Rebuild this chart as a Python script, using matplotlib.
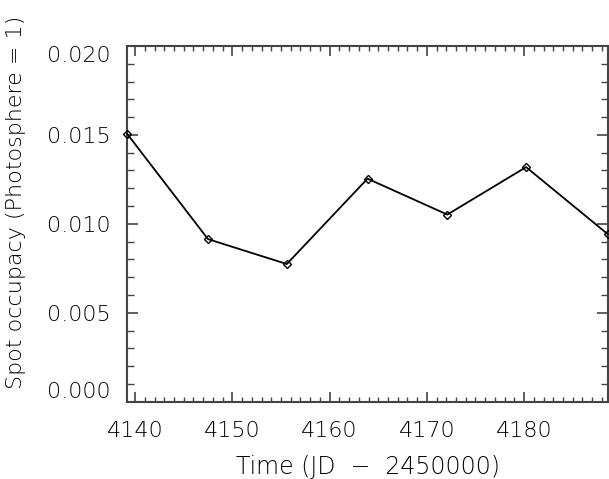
import matplotlib
matplotlib.use('Agg')
import matplotlib.pyplot as plt
from matplotlib.ticker import MultipleLocator

# spot occupancy vs time
time_jd = [4139.2, 4147.5, 4155.6, 4163.9, 4172.1, 4180.2, 4188.6]
occupancy = [0.01505, 0.00914, 0.00774, 0.01254, 0.01052, 0.01319, 0.00942]

xticks = [4140, 4150, 4160, 4170, 4180]
yticks = [0.000, 0.005, 0.010, 0.015, 0.020]
ytick_labels = ['0.000', '0.005', '0.010', '0.015', '0.020']

axcol = '#444444'
txtcol = 'black'

plt.rcParams['font.family'] = ['DejaVu Sans']

fig = plt.figure(figsize=(6.09, 4.79), dpi=100)
ax = fig.add_axes([0.209, 0.1614, 0.789, 0.7426])

ax.plot(time_jd, occupancy, color='black', lw=1.3, marker='D', ms=4.5,
        mfc='none', mec='black', mew=1.0, clip_on=False, zorder=3)

ax.set_xlim(min(time_jd), max(time_jd))
ax.set_ylim(0.0, 0.020)

ax.set_xticks(xticks)
ax.xaxis.set_minor_locator(MultipleLocator(1))
ax.set_yticks(yticks)
ax.set_yticklabels(ytick_labels)
ax.yaxis.set_minor_locator(MultipleLocator(0.001))

ax.tick_params(which='both', direction='in', top=True, right=True,
               colors=axcol, labelcolor=txtcol, labelsize=16)
ax.tick_params(axis='x', which='major', length=7, width=1.2, pad=14)
ax.tick_params(axis='x', which='minor', length=3.5, width=1.0)
ax.tick_params(axis='y', which='major', length=8, width=1.2, pad=12)
ax.tick_params(axis='y', which='minor', length=5, width=1.0)
for lab in ax.get_xticklabels() + ax.get_yticklabels():
    lab.set_fontweight('light')

for s in ax.spines.values():
    s.set_color(axcol)
    s.set_linewidth(1.5)

# end labels sit inside the axis range
ylabs = ax.get_yticklabels()
ylabs[0].set_verticalalignment('bottom')
ylabs[-1].set_verticalalignment('top')

ax.set_xlabel('Time (JD  \u2212  2450000)', fontsize=17, color=txtcol, fontweight='light')
ax.xaxis.set_label_coords(0.5, -0.15)
ax.set_ylabel('Spot occupacy (Photosphere = 1)', fontsize=16, color=txtcol, fontweight='light')
ax.yaxis.set_label_coords(-0.21, 0.56)

fig.savefig('out.png', dpi=100)
